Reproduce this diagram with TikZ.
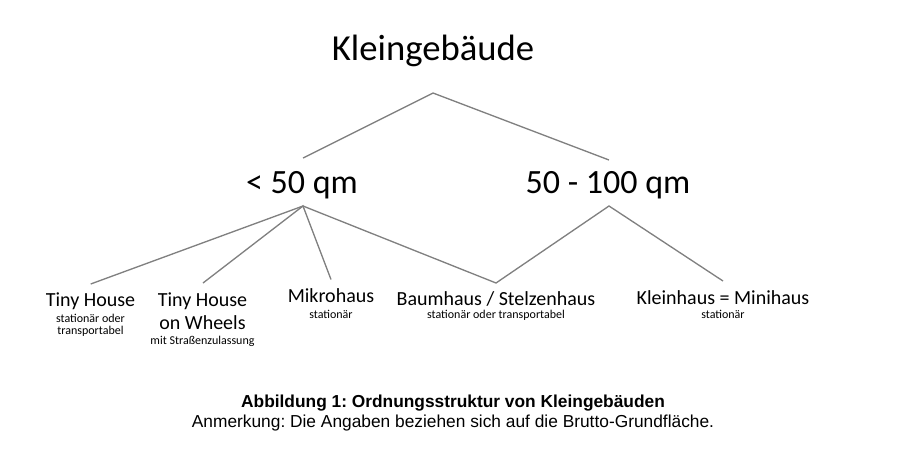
\documentclass[tikz,border=0pt]{standalone}
\usepackage{fontspec}
\setmainfont{Carlito}
\newfontfamily\capfont{Liberation Sans}
\frenchspacing

\begin{document}
\begin{tikzpicture}[x=0.75pt,y=-0.75pt,
  every node/.style={inner sep=0pt,anchor=base},
  top/.style={font=\fontsize{27.5}{33}\selectfont},
  big/.style={font=\fontsize{25.5}{30}\selectfont},
  leaf/.style={font=\fontsize{15}{18}\selectfont},
  note/.style={font=\fontsize{9}{11}\selectfont},
  captitle/.style={font=\capfont\bfseries\fontsize{13}{15}\selectfont},
  captext/.style={font=\capfont\fontsize{13}{15}\selectfont},
  branch/.style={draw=black!50,line width=1pt}] %% Ordnungsstruktur
\useasboundingbox (0,0) rectangle (900,465);
% Ebenen 1 und 2
\node[top] (kg) at (433,60) {Kleingebäude};
\node[big] (lt50) at (302,193) {< 50 qm};
\node[big] (gt50) at (608,193) {50 - 100 qm};
% Ebene 3
\node[leaf] (tiny) at (90.5,306) {Tiny House};
\node[note] (tinyA) at (90.5,322) {stationär oder};
\node[note] (tinyB) at (90.5,334) {transportabel};
\node[leaf] (wheels) at (202.5,306) {Tiny House};
\node[leaf] (wheelsB) at (202.5,329) {on Wheels};
\node[note] (wheelsC) at (202.5,344) {mit Straßenzulassung};
\node[leaf] (mikro) at (331,302.5) {Mikrohaus};
\node[note] (mikroA) at (331,318) {stationär};
\node[leaf] (baum) at (496,305) {Baumhaus / Stelzenhaus};
\node[note] (baumA) at (496,318) {stationär oder transportabel};
\node[leaf] (klein) at (723,304.5) {Kleinhaus = Minihaus};
\node[note] (kleinA) at (723,318) {stationär};
% Enden der Linien
\coordinate (kgApex) at (433,93);
\coordinate (lt50Top) at (303,158);
\coordinate (gt50Top) at (609,160);
\coordinate (lt50Apex) at (303,206);
\coordinate (gt50Apex) at (609,206);
\coordinate (tinyTop) at (90.7,284);
\coordinate (wheelsTop) at (203,283);
\coordinate (mikroTop) at (331,279.5);
\coordinate (baumTop) at (496,283);
\coordinate (kleinTop) at (723,281);
\draw[branch] (lt50Top) -- (kgApex) -- (gt50Top);
\draw[branch] (tinyTop) -- (lt50Apex) -- (baumTop) -- (gt50Apex) -- (kleinTop);
\draw[branch] (wheelsTop) -- (lt50Apex) -- (mikroTop);
% Bildunterschrift
\node[captitle] (abb) at (453,407) {Abbildung 1: Ordnungsstruktur von Kleingebäuden};
\node[captext] (anm) at (453,427) {Anmerkung: Die Angaben beziehen sich auf die Brutto-Grundfläche.};
\end{tikzpicture}
\end{document}
